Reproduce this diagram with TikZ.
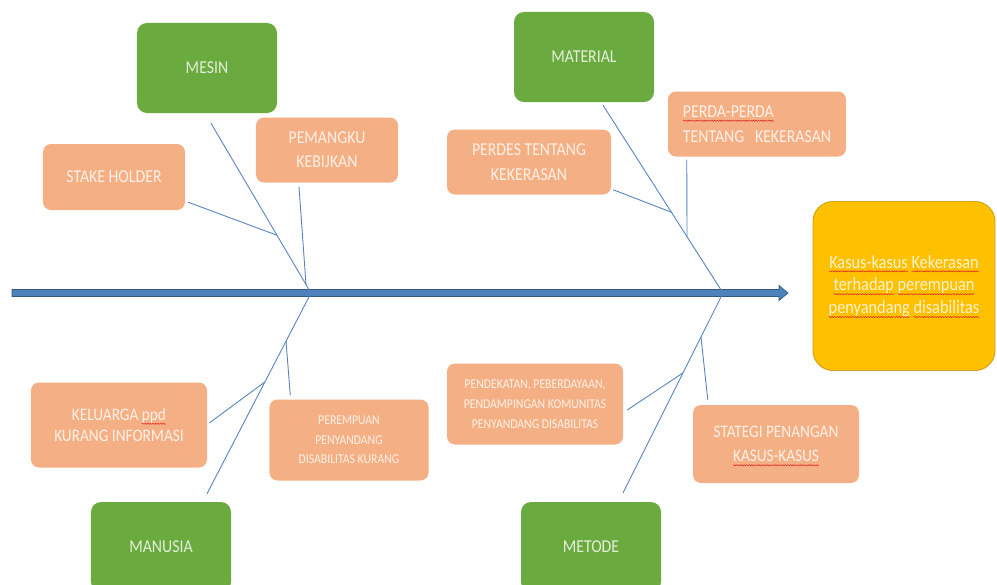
\documentclass[tikz,border=0pt]{standalone}
\usepackage{fontspec}
\setmainfont{Carlito}[FakeStretch=0.87]
\usetikzlibrary{calc, decorations.pathmorphing}

\definecolor{causefill}{RGB}{106,170,62}
\definecolor{causetext}{RGB}{226,240,217}
\definecolor{factorfill}{RGB}{244,176,132}
\definecolor{factortext}{RGB}{254,240,230}
\definecolor{effectfill}{RGB}{255,192,0}
\definecolor{effectline}{RGB}{214,160,20}
\definecolor{effecttext}{RGB}{255,242,204}
\definecolor{boneblue}{RGB}{84,130,190}
\definecolor{spinefill}{RGB}{79,129,189}
\definecolor{spineline}{RGB}{52,88,134}
\definecolor{typored}{RGB}{220,30,30}

% red wavy underline
\newcommand\typo[1]{\setbox0\hbox{#1}\rlap{\tikz[overlay, baseline=0pt]
    \draw[draw=typored, fill=none, sharp corners, line width=0.4pt, decorate, decoration={snake, amplitude=0.5pt, segment length=2.2pt}] (0pt,-2.8pt) -- (\the\wd0,-2.8pt);}\box0\relax}

\begin{document}
\begin{tikzpicture}[x=0.03cm, y=-0.03cm,
    every node/.style={font=\fontsize{15.5pt}{20pt}\selectfont, align=center, inner sep=0pt},
    cause/.style={fill=causefill, text=causetext, rounded corners=0.3cm, minimum width=4.2cm, minimum height=2.7cm},
    factor/.style={fill=factorfill, text=factortext, rounded corners=0.24cm},
    effect/.style={fill=effectfill, draw=effectline, line width=0.8pt, text=effecttext, rounded corners=0.6cm, minimum width=5.46cm, minimum height=5.07cm},
    bone/.style={draw=boneblue, line width=0.75pt}]
    \useasboundingbox (0,0) rectangle (997,585);

    % main categories
    \node[cause] (mesin) at (207,68) {MESIN};
    \node[cause] (material) at (584,57) {MATERIAL};
    \node[cause] (manusia) at (161,547) {MANUSIA};
    \node[cause] (metode) at (591,547) {METODE};

    % causes
    \node[factor, minimum width=4.26cm, minimum height=1.98cm] (stake) at (114,177) {STAKE HOLDER};
    \node[factor, minimum width=4.26cm, minimum height=1.95cm, font=\fontsize{15.5pt}{20.5pt}\selectfont] (pemangku) at (327,150) {PEMANGKU\\KEBIJKAN};
    \node[factor, minimum width=4.92cm, minimum height=1.95cm, font=\fontsize{15.5pt}{21pt}\selectfont] (perdes) at (529,162) {PERDES TENTANG\\KEKERASAN};
    \node[factor, minimum width=5.34cm, minimum height=1.95cm, align=left, font=\fontsize{15.5pt}{21pt}\selectfont] (perda) at (757,124) {\typo{PERDA-PERDA}\\TENTANG\ \ \ KEKERASAN};
    \node[factor, minimum width=5.28cm, minimum height=2.55cm, font=\fontsize{15pt}{18pt}\selectfont] (keluarga) at (119,425) {KELUARGA \typo{ppd}\\KURANG INFORMASI};
    \node[factor, minimum width=4.77cm, minimum height=2.43cm, font=\fontsize{11.5pt}{16.5pt}\selectfont] (perempuan) at (349,440) {PEREMPUAN\\PENYANDANG\\DISABILITAS KURANG};
    \node[factor, minimum width=5.28cm, minimum height=2.43cm, font=\fontsize{11.5pt}{17pt}\selectfont] (pendekatan) at (535,404) {PENDEKATAN, PEBERDAYAAN,\\PENDAMPINGAN KOMUNITAS\\PENYANDANG DISABILITAS};
    \node[factor, minimum width=4.98cm, minimum height=2.34cm, font=\fontsize{15pt}{21pt}\selectfont] (stategi) at (776,444) {STATEGI PENANGAN\\\typo{KASUS-KASUS}};

    % effect
    \node[effect, font=\fontsize{16pt}{19.5pt}\selectfont] (kasus) at (904,286) {\typo{Kasus-kasus} \typo{Kekerasan}\\\typo{terhadap} \typo{perempuan}\\\typo{penyandang} \typo{disabilitas}};

    % spine
    \coordinate (tail) at (12,293);
    \coordinate (head) at (788,293);
    \filldraw[draw=spineline, fill=spinefill, line width=0.6pt] ($(tail)+(0,-3.5)$) -- ($(head)+(-9,-3.5)$) -- ($(head)+(-9,-7.5)$) -- (head) -- ($(head)+(-9,7.5)$) -- ($(head)+(-9,3.5)$) -- ($(tail)+(0,3.5)$) -- cycle;

    % bones
    \coordinate (j1) at (311,293);
    \coordinate (j2) at (723,293);
    \coordinate (mb) at ($(mesin.south)+(4,10)$);
    \coordinate (tb) at ($(material.south)+(19,3)$);
    \coordinate (hb) at ($(manusia.north)+(46,-8)$);
    \coordinate (db) at ($(metode.north)+(32,-9)$);
    \foreach \s/\e in {mb/j1, hb/j1, tb/j2, db/j2}
        \draw[bone] (\s) -- (\e);

    % ribs
    \draw[bone] ($(stake.south east)+(3,-8)$) -- ($(mb)!0.66!(j1)$);
    \draw[bone] ($(pemangku.south)+(-28,4)$) -- ($(mb)!0.95!(j1)$);
    \draw[bone] ($(perdes.south east)+(2,-5)$) -- ($(tb)!0.57!(j2)$);
    \draw[bone] ($(perda.south west)+(19,3)$) -- ($(tb)!0.7!(j2)$);
    \draw[bone] ($(keluarga.east)+(2,-2)$) -- ($(hb)!0.557!(j1)$);
    \draw[bone] ($(perempuan.north west)+(21,-4)$) -- ($(hb)!0.76!(j1)$);
    \draw[bone] ($(pendekatan.east)+(4,6)$) -- ($(db)!0.6!(j2)$);
    \draw[bone] ($(stategi.north west)+(15,-5)$) -- ($(db)!0.78!(j2)$);
\end{tikzpicture}
\end{document}
